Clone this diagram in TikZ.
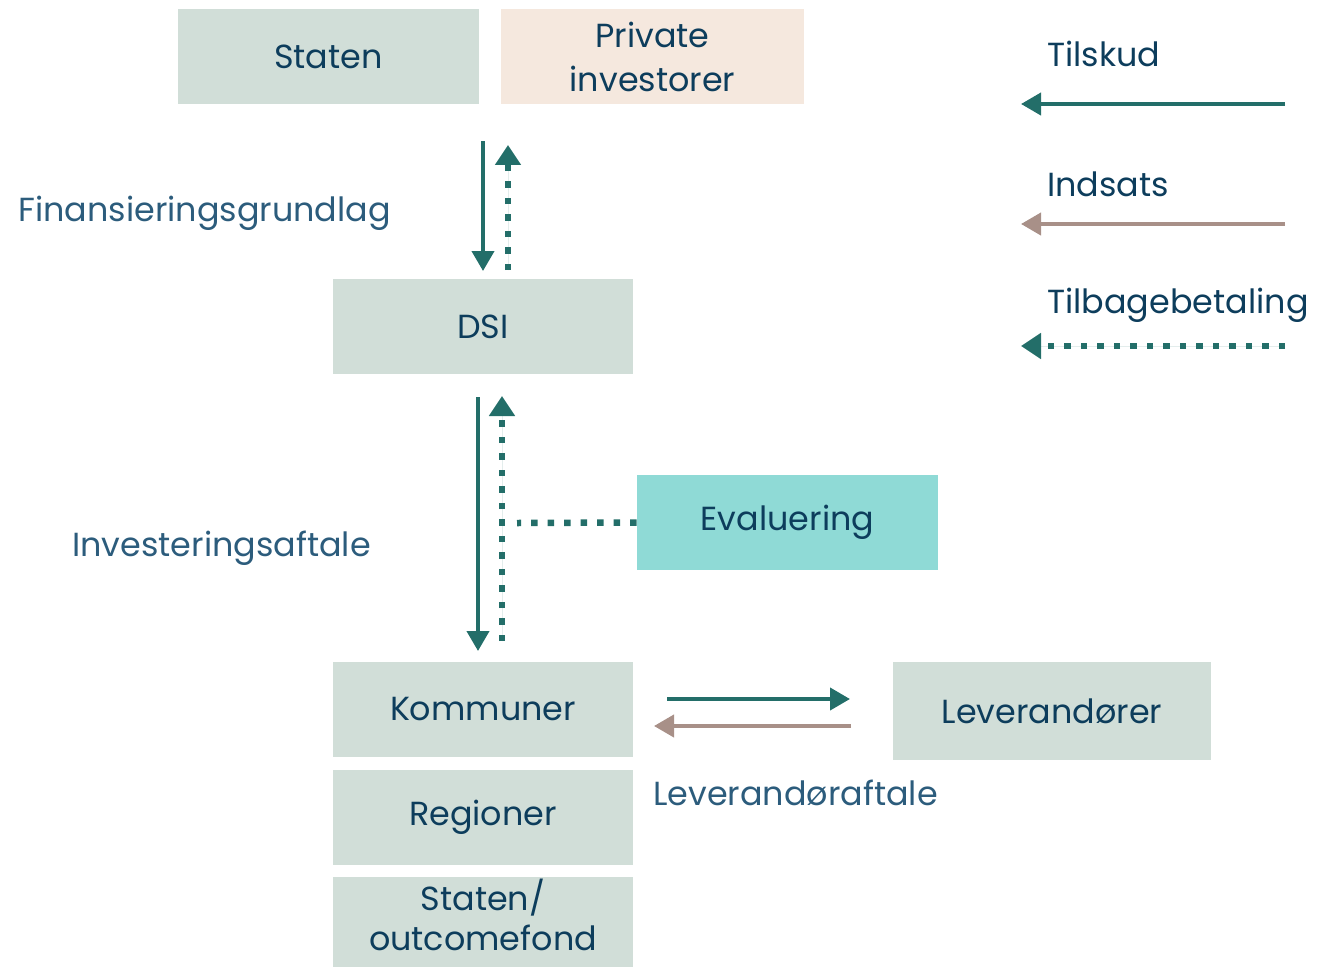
\documentclass[tikz,border=0pt]{standalone}
\usepackage{fontspec}
\setmainfont{Poppins}
\usetikzlibrary{arrows.meta}
\usetikzlibrary{positioning}

\definecolor{boxgreen}{HTML}{D1DED8}
\definecolor{boxpeach}{HTML}{F5E8DE}
\definecolor{boxcyan}{HTML}{8FDAD6}
\definecolor{textblue}{HTML}{0D3D5C}
\definecolor{labelblue}{HTML}{2C5C7C}
\definecolor{flowteal}{HTML}{236E69}
\definecolor{flowbrown}{HTML}{A89088}

\tikzset{
  actor/.style={fill=boxgreen, text=textblue, minimum width=6.02cm, minimum height=1.9cm,
    inner sep=0pt, align=center, font=\fontsize{19}{25}\selectfont},
  flowlabel/.style={text=labelblue, anchor=west, inner sep=0pt, font=\fontsize{19}{22}\selectfont},
  keylabel/.style={text=textblue, anchor=west, inner sep=0pt, font=\fontsize{19}{22}\selectfont},
  tilskud/.style={draw=flowteal, line width=0.08cm, -{Triangle[length=0.4cm,width=0.44cm]}, fill=flowteal},
  indsats/.style={draw=flowbrown, line width=0.08cm, -{Triangle[length=0.4cm,width=0.44cm]}, fill=flowbrown},
  tilbage/.style={draw=flowteal, line width=0.13cm, dash pattern=on 0.13cm off 0.2cm,
    -{Triangle[length=0.4cm,width=0.5cm]}, fill=flowteal},
  evalline/.style={draw=flowteal, line width=0.13cm, dash pattern=on 0.13cm off 0.2cm}
}

\begin{document}
\begin{tikzpicture}[x=0.02cm, y=-0.02cm]
\useasboundingbox (0,0) rectangle (1325,967);

\node[actor] (staten) at (328.5, 56.5) {Staten};
\node[actor, fill=boxpeach, minimum width=6.06cm] (private) at (652.5, 56.5) {Private\\investorer};
\node[actor] (dsi) at (483, 326.5) {DSI};
\node[actor, fill=boxcyan] (eval) at (787.5, 522.5) {Evaluering};
\node[actor] (kommuner) at (483, 709.5) {Kommuner};
\node[actor] (regioner) at (483, 817.5) {Regioner};
\node[actor, minimum height=1.8cm, text depth=0.3cm,
  font=\fontsize{19}{23}\selectfont] (outcome) at (483, 922) {Staten/\\outcomefond};
\node[actor, minimum width=6.36cm, minimum height=1.96cm] (lev) at (1052, 711) {Leverandører};

\node[flowlabel] (fin) at (18, 213) {Finansieringsgrundlag};
\node[flowlabel] (inv) at (72, 548) {Investeringsaftale};
\node[flowlabel] (levaft) at (653, 793) {Leverandøraftale};

\node[keylabel] (ktilskud) at (1047, 54) {Tilskud};
\node[keylabel] (kindsats) at (1047, 184) {Indsats};
\node[keylabel] (ktilbage) at (1047, 305) {Tilbagebetaling};

\coordinate (a1) at (483, 141);
\coordinate (a2) at (483, 271);
\coordinate (b1) at (508, 270);
\coordinate (b2) at (508, 145);
\coordinate (c1) at (478, 397);
\coordinate (c2) at (478, 651);
\coordinate (d1) at (502, 641);
\coordinate (d2) at (502, 396);
\coordinate (e1) at (517, 523);
\coordinate (k1) at (667, 699);
\coordinate (k2) at (850, 699);
\coordinate (l1) at (851, 726);
\coordinate (l2) at (654, 726);

\draw[tilskud] (a1) -- (a2);
\draw[tilbage] (b1) -- (b2);
\draw[tilskud] (c1) -- (c2);
\draw[tilbage] (d1) -- (d2);
\draw[evalline] (eval.west) -- (e1);
\draw[tilskud] (k1) -- (k2);
\draw[indsats] (l1) -- (l2);

\coordinate (t1) at (1285, 104);
\coordinate (t2) at (1021, 104);
\coordinate (i1) at (1285, 224);
\coordinate (i2) at (1021, 224);
\coordinate (r1) at (1285, 346);
\coordinate (r2) at (1021, 346);

\draw[tilskud] (t1) -- (t2);
\draw[indsats] (i1) -- (i2);
\draw[tilbage] (r1) -- (r2);

\end{tikzpicture}
\end{document}
